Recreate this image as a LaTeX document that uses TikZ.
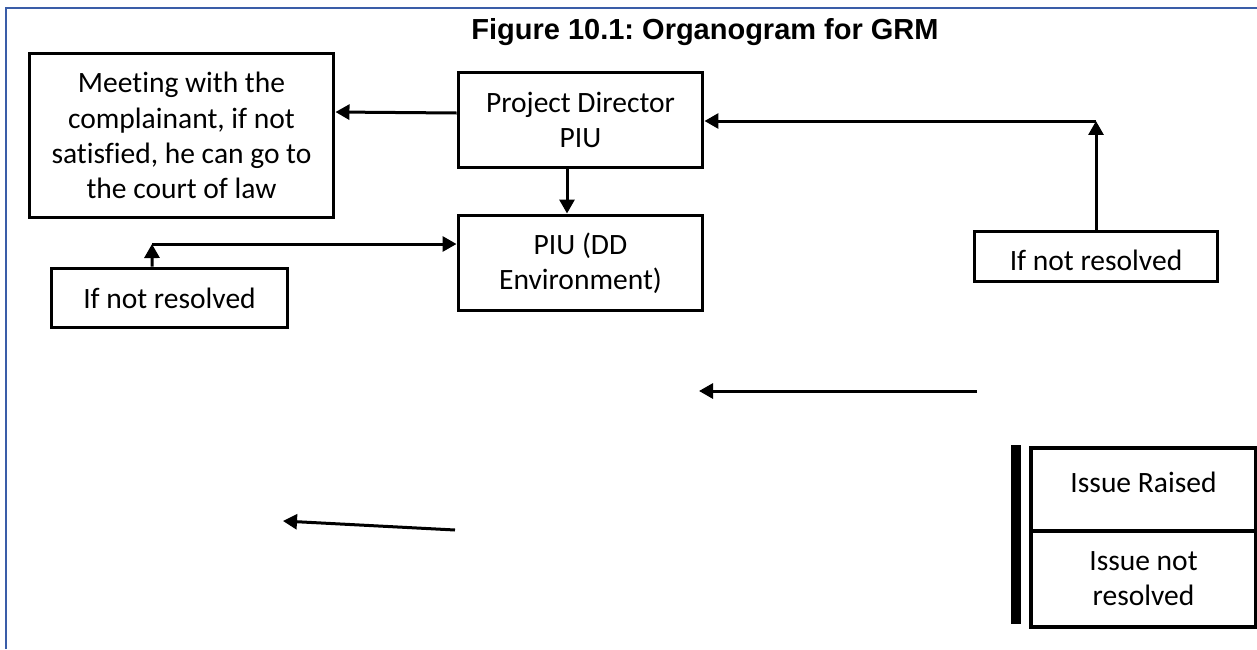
\documentclass[tikz,border=0pt]{standalone}
\usepackage{fontspec}
\setmainfont{Carlito}[Ligatures=CommonOff]
\newfontfamily\titlefont{Liberation Sans}
\usetikzlibrary{arrows.meta}
\definecolor{framebl}{HTML}{3A5DA8}
\frenchspacing
\tikzset{
  arr/.style={draw,line width=0.06cm,-{Triangle[length=0.28cm,width=0.3cm]}},
  frameline/.style={draw=framebl,line width=0.05cm}
}
\begin{document}
\begin{tikzpicture}[x=0.02cm,y=-0.02cm]
        \useasboundingbox (0,0) rectangle (1257,649);
        \draw[frameline] (6,649) -- (6,8) -- (1257,8);

        \node[font=\titlefont\bfseries\fontsize{16.5}{19}\selectfont] (title) at (705,32) {Figure 10.1: Organogram for GRM};

        \begin{scope}[every node/.style={rectangle,draw,line width=0.06cm,align=center,
                      inner sep=0pt,font=\fontsize{16.8}{20}\selectfont}]
          \node[minimum width=6.1cm,minimum height=3.3cm]  (meet)   at (181.5,135.5) {Meeting with the\\complainant, if not\\satisfied, he can go to\\the court of law};
          \node[minimum width=4.9cm,minimum height=1.9cm]  (pd)     at (580.5,120)   {Project Director\\PIU};
          \node[minimum width=4.9cm,minimum height=1.92cm] (piu)    at (580.5,263)   {PIU (DD\\Environment)};
          \node[minimum width=4.74cm,minimum height=1.2cm] (lnr)    at (169.5,298)   {If not resolved};
          \node[minimum width=4.88cm,minimum height=1.02cm,text height=16.4pt,text depth=0pt] (rnr) at (1096,256.5) {If not resolved};
          \node[minimum width=4.5cm,minimum height=1.66cm,line width=0.08cm,text height=12pt,text depth=9.1pt] (raised) at (1143.5,489.5) {Issue Raised};
          \node[minimum width=4.5cm,minimum height=1.92cm,line width=0.08cm] (notres) at (1143.5,579) {Issue not\\resolved};
        \end{scope}
        \fill (1011,445) rectangle (1021,624);

        \coordinate (c1)  at (152,244);
        \coordinate (c2)  at (1096,121);
        \coordinate (f1s) at (977,391);
        \coordinate (f1e) at (699,391);
        \coordinate (f2s) at (455,530);
        \coordinate (f2e) at (283,521);

        \path[arr] ([yshift=0.14cm]pd.west) -- ([yshift=0.47cm]meet.east);
        \path[arr] ([xshift=-0.27cm]pd.south) -- ([xshift=-0.27cm]piu.north);
        \path[arr] ([xshift=-0.35cm]lnr.north) -- (c1);
        \path[arr] (c1) -- (piu.west |- c1);
        \path[arr] (rnr.north) -- (c2);
        \path[arr] (c2) -- (pd.east |- c2);
        \path[arr] (f1s) -- (f1e);
        \path[arr] (f2s) -- (f2e);

      \end{tikzpicture}
\end{document}
